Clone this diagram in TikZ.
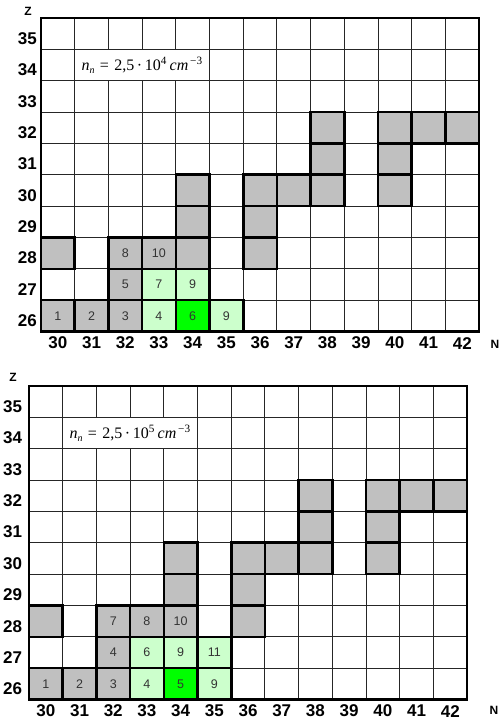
\documentclass[tikz,border=0pt]{standalone}
\usepackage{fontspec}
\setmainfont{Liberation Sans}
\newfontfamily\serifface{Liberation Serif}
\definecolor{cellgray}{HTML}{C0C0C0}
\definecolor{lgreen}{HTML}{CCFFCC}
\definecolor{bgreen}{HTML}{00FF00}
\tikzset{
  thinline/.style={line width=0.9pt, draw=black!85},
  thickline/.style={line width=2.6pt, draw=black},
  cellbase/.style={thickline, minimum width=33.7pt, minimum height=31.35pt, inner sep=0pt,
                   font=\fontsize{12.5}{12.5}\selectfont, text=black!80},
  graycell/.style={cellbase, fill=cellgray},
  lgcell/.style={cellbase, fill=lgreen},
  bgcell/.style={cellbase, fill=bgreen},
  rowlab/.style={font=\fontsize{17}{17}\selectfont\bfseries, inner sep=0pt, anchor=east},
  collab/.style={font=\fontsize{17}{17}\selectfont\bfseries, inner sep=0pt},
  axlab/.style={font=\fontsize{12}{12}\selectfont\bfseries, inner sep=0pt},
  formbox/.style={fill=white, draw=black!85, line width=0.9pt, minimum width=134.8pt,
                  minimum height=31.35pt, inner sep=0pt, font=\fontsize{16}{16}\selectfont\serifface},
}
\newcommand\formula[1]{\textit{n}\raisebox{-0.35ex}{\fontsize{10}{10}\selectfont\textit{n}}\,\,=\,\,2,5\,·\,10\textsuperscript{#1}\,\textit{cm}\textsuperscript{\,−3}}
\newcommand\mygridbase[2]{%
  \foreach \i in {1,...,12} \draw[thinline] (\i,0) -- (\i,10);
  \foreach \j in {1,...,9} \draw[thinline] (0,\j) -- (13,\j);
  \foreach \z in {26,...,35} \node[rowlab] (#2r\z) at (-#1, 35.66-\z) {\z};
  \foreach \n in {30,...,42} \node[collab] (#2c\n) at (\n-29.5, 10.37) {\n};
}
\begin{document}
\begin{tikzpicture}[x=1pt,y=-1pt]
\useasboundingbox[fill=white] (0,0) rectangle (500,721);
% ---------------- top grid ----------------
\begin{scope}[shift={(41pt,-18pt)}, x=33.7pt, y=-31.35pt]
  \mygridbase{0.12}{a}
  \node[formbox] (fa) at (3,1.5) {\formula{4}};
  \foreach \n/\z/\t in {30/26/1,31/26/2,32/26/3,32/27/5,30/28/{},32/28/8,33/28/10,34/28/{},36/28/{},
      34/29/{},36/29/{},34/30/{},36/30/{},37/30/{},38/30/{},40/30/{},38/31/{},40/31/{},
      38/32/{},40/32/{},41/32/{},42/32/{}}
    \node[graycell] (a\n-\z) at (\n-29.5, 35.5-\z) {\t};
  \foreach \n/\z/\t in {33/26/4,35/26/9,33/27/7,34/27/9}
    \node[lgcell] (a\n-\z) at (\n-29.5, 35.5-\z) {\t};
  \foreach \n/\z/\t in {34/26/6}
    \node[bgcell] (a\n-\z) at (\n-29.5, 35.5-\z) {\t};
  \draw[thickline] (0,0) rectangle (13,10);
\end{scope}
\node[axlab] (za) at (28,11) {Z};
\node[axlab] (na) at (495,344) {N};
% ---------------- bottom grid ----------------
\begin{scope}[shift={(29pt,-386pt)}, x=33.7pt, y=-31.35pt]
  \mygridbase{0.2}{b}
  \node[formbox] (fb) at (3,1.5) {\formula{5}};
  \foreach \n/\z/\t in {30/26/1,31/26/2,32/26/3,32/27/4,30/28/{},32/28/7,33/28/8,34/28/10,36/28/{},
      34/29/{},36/29/{},34/30/{},36/30/{},37/30/{},38/30/{},40/30/{},38/31/{},40/31/{},
      38/32/{},40/32/{},41/32/{},42/32/{}}
    \node[graycell] (b\n-\z) at (\n-29.5, 35.5-\z) {\t};
  \foreach \n/\z/\t in {33/26/4,35/26/9,33/27/6,34/27/9,35/27/11}
    \node[lgcell] (b\n-\z) at (\n-29.5, 35.5-\z) {\t};
  \foreach \n/\z/\t in {34/26/5}
    \node[bgcell] (b\n-\z) at (\n-29.5, 35.5-\z) {\t};
  \draw[thickline] (0,0) rectangle (13,10);
\end{scope}
\node[axlab] (zb) at (13,377) {Z};
\node[axlab] (nb) at (494,710) {N};
\end{tikzpicture}
\end{document}
